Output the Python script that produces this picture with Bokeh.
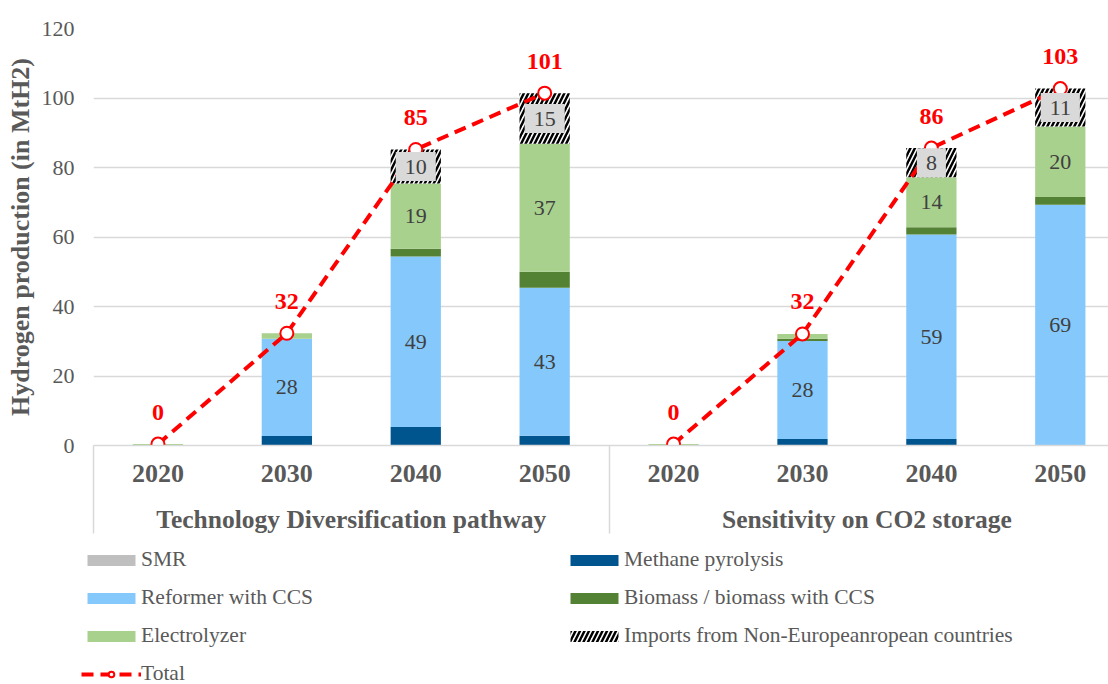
from bokeh.plotting import figure
from bokeh.layouts import column
from bokeh.models import (ColumnDataSource, Range1d, LinearAxis, FixedTicker, Grid,
                          Legend, LegendItem)
from bokeh.core.properties import value
from bokeh.transform import stack
from bokeh.embed import file_html
from bokeh.resources import INLINE

# ---------------- data ----------------
years = ["2020", "2030", "2040", "2050"]
groups = ["Technology Diversification pathway", "Sensitivity on CO2 storage"]

series_names = ["SMR", "Methane pyrolysis", "Reformer with CCS",
                "Biomass / biomass with CCS", "Electrolyzer",
                "Imports from Non-Europeanropean countries"]
series_keys = ["smr", "pyrolysis", "reformer", "biomass", "electrolyzer", "imports"]

#            TD pathway: 2020 2030  2040  2050 | CO2 storage: 2020 2030  2040  2050
smr          = [0.0, 0.0,  0.0,  0.0,   0.0, 0.0,  0.0,  0.0]
pyrolysis    = [0.0, 2.7,  5.3,  2.8,   0.0, 1.9,  1.9,  0.0]
reformer     = [0.0, 28.0, 49.1, 42.6,  0.0, 28.2, 58.8, 69.3]
biomass      = [0.0, 0.0,  2.2,  4.6,   0.0, 0.6,  2.1,  2.2]
electrolyzer = [0.4, 1.6,  18.8, 36.8,  0.4, 1.4,  14.4, 20.3]
imports      = [0.0, 0.0,  9.8,  14.6,  0.0, 0.0,  8.4,  10.9]

series_vals = [smr, pyrolysis, reformer, biomass, electrolyzer, imports]
colors = ["#BFBFBF", "#00558F", "#85C9FC", "#548235", "#A9D18E", "white"]

# ---------------- derived ----------------
n = len(years) * len(groups)
xpos = [i + 0.5 for i in range(n)]
totals = [sum(v[i] for v in series_vals) for i in range(n)]

data = dict(x=xpos)
for k, v in zip(series_keys, series_vals):
    data[k] = v
src = ColumnDataSource(data)

FONT = "Liberation Serif"
GRAY = "#595959"

p = figure(width=1108, height=541, x_range=Range1d(0, 7.874), y_range=Range1d(0, 120),
           x_axis_type=None, y_axis_type=None, output_backend="svg",
           toolbar_location=None, min_border_left=93, min_border_right=0,
           min_border_top=28, min_border_bottom=96)
p.outline_line_color = None

# y axis
yaxis = LinearAxis(ticker=FixedTicker(ticks=[0, 20, 40, 60, 80, 100, 120]),
                   axis_label="Hydrogen production (in MtH2)")
yaxis.axis_line_color = None
yaxis.major_tick_line_color = None
yaxis.minor_tick_line_color = None
yaxis.major_tick_out = 0
yaxis.major_tick_in = 0
yaxis.major_label_standoff = 19
yaxis.major_label_text_font = FONT
yaxis.major_label_text_font_size = "22px"
yaxis.major_label_text_color = GRAY
yaxis.axis_label_text_font = FONT
yaxis.axis_label_text_font_style = "bold"
yaxis.axis_label_text_font_size = "26px"
yaxis.axis_label_text_color = GRAY
yaxis.axis_label_standoff = 4
p.add_layout(yaxis, "left")

p.add_layout(Grid(dimension=1, ticker=yaxis.ticker, grid_line_color="#D9D9D9",
                  grid_line_width=1.5))

# x axis (years) with group separators drawn as long minor ticks
xaxis = LinearAxis(ticker=FixedTicker(ticks=xpos, minor_ticks=[0, 4, 8]),
                   major_label_overrides={x: years[i % 4] for i, x in enumerate(xpos)})
xaxis.axis_line_color = "#D9D9D9"
xaxis.axis_line_width = 1.5
xaxis.major_tick_line_color = None
xaxis.major_tick_out = 0
xaxis.major_tick_in = 0
xaxis.minor_tick_line_color = "#D9D9D9"
xaxis.minor_tick_line_width = 1.5
xaxis.minor_tick_out = 88
xaxis.minor_tick_in = 0
xaxis.major_label_standoff = -69
xaxis.major_label_text_font = FONT
xaxis.major_label_text_font_style = "bold"
xaxis.major_label_text_font_size = "26px"
xaxis.major_label_text_color = GRAY
p.add_layout(xaxis, "below")

gaxis = LinearAxis(ticker=FixedTicker(ticks=[2.0, 6.0], minor_ticks=[]),
                   major_label_overrides={2.0: groups[0], 6.0: groups[1]})
gaxis.axis_line_color = None
gaxis.major_tick_line_color = None
gaxis.minor_tick_line_color = None
gaxis.major_tick_out = 0
gaxis.major_tick_in = 0
gaxis.major_label_standoff = 20
gaxis.major_label_text_font = FONT
gaxis.major_label_text_font_style = "bold"
gaxis.major_label_text_font_size = "25.5px"
gaxis.major_label_text_color = GRAY
p.add_layout(gaxis, "below")


def bar_style(j):
    kw = dict(fill_color=colors[j], line_color=None)
    if series_keys[j] == "imports":
        kw.update(hatch_pattern="/", hatch_color="black", hatch_weight=2.5, hatch_scale=9)
    return kw


LINE_STYLE = dict(line_color="#FF0000", line_width=4, line_dash="12 7")
MARK_STYLE = dict(marker="circle", size=13, fill_color="white", line_color="#FF0000",
                  line_width=2)

# stacked bars
for j, key in enumerate(series_keys):
    p.vbar(x="x", width=0.39, bottom=stack(*series_keys[:j]),
           top=stack(*series_keys[:j + 1]), source=src, **bar_style(j))

# total line (one per group)
for g in range(len(groups)):
    sl = slice(g * 4, g * 4 + 4)
    ts = ColumnDataSource(dict(x=xpos[sl], y=totals[sl]))
    p.line("x", "y", source=ts, **LINE_STYLE)
    p.scatter("x", "y", source=ts, **MARK_STYLE)

# segment labels
lab = dict(x=[], y=[], t=[])
imp_lab = dict(x=[], y=[], t=[])
for i in range(n):
    bottom = 0.0
    for key, vals in zip(series_keys, series_vals):
        v = vals[i]
        if v >= 6:
            d = imp_lab if key == "imports" else lab
            d["x"].append(xpos[i])
            d["y"].append(bottom + v / 2)
            d["t"].append(str(round(v)))
        bottom += v

p.text(x="x", y="y", text="t", source=ColumnDataSource(lab), text_align="center",
       text_baseline="middle", text_font=value(FONT), text_font_size=value("22px"),
       text_color="#404040")
p.text(x="x", y="y", text="t", source=ColumnDataSource(imp_lab), text_align="center",
       text_baseline="middle", text_font=value(FONT), text_font_size=value("22px"),
       text_color="#404040", background_fill_color="#D9D9D9",
       padding=dict(left=9, right=9, top=8, bottom=7))

# total labels
tot_src = ColumnDataSource(dict(x=xpos, y=totals, t=[str(round(t)) for t in totals]))
p.text(x="x", y="y", text="t", source=tot_src, text_align="center",
       text_baseline="middle", y_offset=-32, text_font=value(FONT),
       text_font_style="bold", text_font_size=value("24px"), text_color="#FF0000")

# ---------------- legend strip below the chart ----------------
pl = figure(width=1108, height=143, x_range=Range1d(0, 1), y_range=Range1d(0, 1),
            x_axis_type=None, y_axis_type=None, output_backend="svg",
            toolbar_location=None, min_border=0)
pl.outline_line_color = None
pl.frame_align = False

# legend proxies: one point each, placed outside the visible range
leg_r = []
for j in range(len(series_keys)):
    leg_r.append(pl.vbar(x=[-5], bottom=[-5], top=[-4], width=0.1, **bar_style(j)))
tl = pl.line(x=[-5, -4], y=[-5, -5], **LINE_STYLE)
tm = pl.scatter(x=[-5], y=[-5], **MARK_STYLE)

items = [LegendItem(label=series_names[j], renderers=[leg_r[j]])
         for j in range(len(series_keys))]
items.append(LegendItem(label="Total", renderers=[tl, tm]))
order = [0, 2, 4, 6, 1, 3, 5]   # column-major: left column then right column
legend = Legend(items=[items[k] for k in order], ncols=2, location=(81, -2))
legend.border_line_color = None
legend.background_fill_alpha = 0
legend.margin = 0
legend.padding = 0
legend.glyph_width = 60
legend.glyph_height = 14
legend.label_height = 22
legend.label_width = 410
legend.label_standoff = 0
legend.spacing = 13
legend.label_text_font = FONT
legend.label_text_font_size = "21.5px"
legend.label_text_color = GRAY
pl.add_layout(legend, "center")

layout = column(p, pl, spacing=0)
open("out.html", "w").write(file_html(layout, INLINE))
